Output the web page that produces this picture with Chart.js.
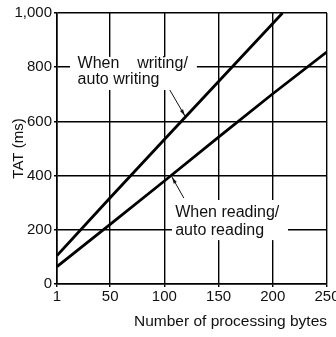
<!DOCTYPE html>
<html>
<head>
<meta charset="utf-8">
<script src="https://cdn.jsdelivr.net/npm/chart.js@4/dist/chart.umd.min.js"></script>
<style>
  html, body { margin: 0; padding: 0; background: #fff; overflow: hidden; }
  #wrap { width: 345px; height: 337px; }
</style>
</head>
<body>
<div id="wrap"><canvas id="chartTat" width="345" height="337"></canvas></div>
<script>
// values
const xTicks = [1, 50, 100, 150, 200, 250];
const writingBytes = [1, 50, 100, 150, 209];
const writingTat = [105, 318, 533, 747, 1000];
const readingBytes = [1, 50, 100, 150, 200, 250];
const readingTat = [64, 220, 380, 542, 702, 857];

const toPoints = (xs, ys) => xs.map((x, i) => ({ x: x, y: ys[i] }));

// callout labels, placed in data units
const callouts = [
    {
        lines: ["When    writing/", "auto writing"],
        box: [13, 130, 838, 716],
        text: [20, 815, 753],
        leader: [105, 716, 119, 620]
    },
    {
        lines: ["When reading/", "auto reading"],
        box: [107, 214, 310, 162],
        text: [110, 262, 196],
        leader: [118, 317, 107, 395]
    }
];

const calloutPlugin = {
    id: "callouts",
    beforeDatasetsDraw(chart) {
        const ctx = chart.ctx;
        const xs = chart.scales.x;
        const ys = chart.scales.y;
        ctx.save();
        for (const c of callouts) {
            const x0 = xs.getPixelForValue(c.box[0]);
            const x1 = xs.getPixelForValue(c.box[1]);
            const y0 = ys.getPixelForValue(c.box[2]);
            const y1 = ys.getPixelForValue(c.box[3]);
            ctx.fillStyle = "#fff";
            ctx.fillRect(x0, y0, x1 - x0, y1 - y0);

            ctx.fillStyle = "#111";
            ctx.font = "16px 'Liberation Sans', Arial, sans-serif";
            ctx.textAlign = "left";
            ctx.textBaseline = "middle";
            const tx = xs.getPixelForValue(c.text[0]);
            ctx.fillText(c.lines[0], tx, ys.getPixelForValue(c.text[1]));
            ctx.fillText(c.lines[1], tx, ys.getPixelForValue(c.text[2]));

            // leader with small arrow head
            const ax = xs.getPixelForValue(c.leader[0]);
            const ay = ys.getPixelForValue(c.leader[1]);
            const bx = xs.getPixelForValue(c.leader[2]);
            const by = ys.getPixelForValue(c.leader[3]);
            ctx.strokeStyle = "#111";
            ctx.lineWidth = 1;
            ctx.beginPath();
            ctx.moveTo(ax, ay);
            ctx.lineTo(bx, by);
            ctx.stroke();
            const ang = Math.atan2(by - ay, bx - ax);
            ctx.beginPath();
            ctx.moveTo(bx, by);
            ctx.lineTo(bx - 7 * Math.cos(ang - 0.25), by - 7 * Math.sin(ang - 0.25));
            ctx.lineTo(bx - 7 * Math.cos(ang + 0.25), by - 7 * Math.sin(ang + 0.25));
            ctx.closePath();
            ctx.fillStyle = "#111";
            ctx.fill();
        }
        ctx.restore();
    }
};

const tickFont = { family: "'Liberation Sans Narrow', 'Liberation Sans', Arial, sans-serif", size: 15 };

const chart = new Chart(document.getElementById("chartTat"), {
    type: "line",
    data: {
        datasets: [
            {
                label: "When writing/auto writing",
                data: toPoints(writingBytes, writingTat),
                borderColor: "#000",
                borderWidth: 2.8,
                pointRadius: 0,
                tension: 0
            },
            {
                label: "When reading/auto reading",
                data: toPoints(readingBytes, readingTat),
                borderColor: "#000",
                borderWidth: 2.8,
                pointRadius: 0,
                tension: 0
            }
        ]
    },
    options: {
        responsive: false,
        animation: false,
        layout: { padding: { left: 0, top: 13, right: 18, bottom: 0 } },
        plugins: {
            legend: { display: false },
            tooltip: { enabled: false }
        },
        scales: {
            x: {
                type: "linear",
                min: 1,
                max: 250,
                afterBuildTicks: (scale) => {
                    scale.ticks = xTicks.map((v) => ({ value: v }));
                },
                afterFit: (scale) => { scale.height = 53; },
                grid: { color: "#000", lineWidth: 1.4, tickLength: 3 },
                border: { color: "#000", width: 1.6 },
                ticks: {
                    color: "#111",
                    font: tickFont,
                    padding: 1,
                    maxRotation: 0,
                    autoSkip: false
                },
                title: {
                    display: true,
                    text: "Number of processing bytes",
                    align: "end",
                    color: "#111",
                    font: { family: "'Liberation Sans', Arial, sans-serif", size: 15.5 },
                    padding: { top: 0, bottom: 6 }
                }
            },
            y: {
                min: 0,
                max: 1000,
                afterFit: (scale) => { scale.width = 57; },
                grid: { color: "#000", lineWidth: 1.4, tickLength: 3 },
                border: { color: "#000", width: 1.6 },
                ticks: {
                    stepSize: 200,
                    color: "#111",
                    font: tickFont,
                    padding: 2,
                    callback: (v) => v.toLocaleString("en-US")
                },
                title: {
                    display: true,
                    text: "TAT (ms)",
                    color: "#111",
                    font: { family: "'Liberation Sans', Arial, sans-serif", size: 15 },
                    padding: { top: 10, bottom: 0 }
                }
            }
        }
    },
    plugins: [calloutPlugin]
});
</script>
</body>
</html>
